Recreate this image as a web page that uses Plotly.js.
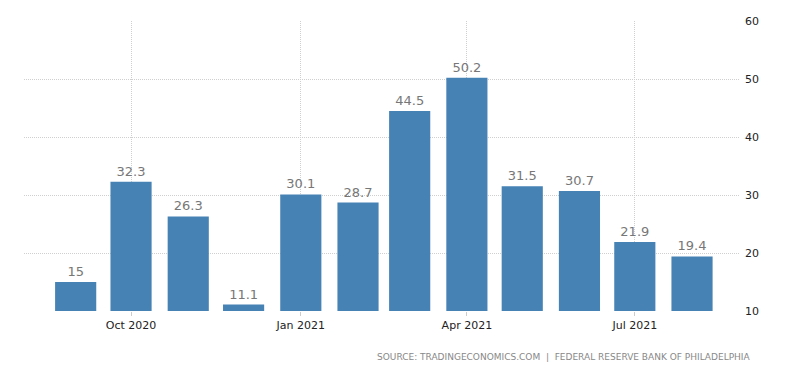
<!DOCTYPE html>
<html>
<head>
<meta charset="utf-8">
<script src="https://cdn.plot.ly/plotly-3.0.1.min.js"></script>
<style>html,body{margin:0;padding:0;background:#fff;}#chart{width:800px;height:373px;}</style>
</head>
<body>
<div id="chart"></div>
<script>
const months = ["2020-09-01","2020-10-01","2020-11-01","2020-12-01","2021-01-01","2021-02-01","2021-03-01","2021-04-01","2021-05-01","2021-06-01","2021-07-01","2021-08-01"];
const values = [15, 32.3, 26.3, 11.1, 30.1, 28.7, 44.5, 50.2, 31.5, 30.7, 21.9, 19.4];
const tickDates = ["2020-10-01","2021-01-01","2021-04-01","2021-07-01"];
const tickLabels = ["Oct 2020","Jan 2021","Apr 2021","Jul 2021"];
const yTicks = [10, 20, 30, 40, 50, 60];
const sourceText = "SOURCE: TRADINGECONOMICS.COM  |  FEDERAL RESERVE BANK OF PHILADELPHIA";

const dayMs = 86400000;
const trace = {
  type: "bar",
  x: months,
  y: values,
  width: months.map(() => 22.3 * dayMs),
  marker: {color: "#4682b4"},
  text: values.map(v => String(v)),
  textposition: "outside",
  textfont: {family: "DejaVu Sans, sans-serif", size: 13, color: "#777"},
  cliponaxis: true,
  hoverinfo: "none"
};

const gridDash = "1px,1px";
const layout = {
  width: 800, height: 373,
  margin: {l: 24, r: 60, t: 21, b: 62},
  paper_bgcolor: "#fff", plot_bgcolor: "#fff",
  showlegend: false,
  xaxis: {
    type: "date",
    range: ["2020-08-04", "2021-08-27"],
    tickvals: tickDates,
    ticktext: tickLabels,
    showgrid: true,
    gridcolor: "#cfcfcf",
    griddash: gridDash,
    gridwidth: 1,
    zeroline: false,
    showline: false,
    ticks: "outside",
    ticklen: 4,
    tickcolor: "#ccc",
    tickfont: {family: "DejaVu Sans, sans-serif", size: 11, color: "#222"}
  },
  yaxis: {
    side: "right",
    range: [10, 60],
    tickvals: yTicks,
    ticktext: yTicks.map(String),
    showgrid: true,
    gridcolor: "#cfcfcf",
    griddash: gridDash,
    gridwidth: 1,
    zeroline: false,
    showline: false,
    ticks: "",
    ticklabelstandoff: 4,
    tickfont: {family: "DejaVu Sans, sans-serif", size: 11, color: "#222"}
  },
  annotations: [{
    xref: "paper", yref: "paper",
    x: 1.0, y: -0.16,
    xanchor: "right", yanchor: "middle",
    xshift: 13,
    showarrow: false,
    text: sourceText,
    font: {family: "DejaVu Sans, sans-serif", size: 9, color: "#888"}
  }]
};
Plotly.newPlot("chart", [trace], layout, {staticPlot: true, displayModeBar: false});
</script>
</body>
</html>
